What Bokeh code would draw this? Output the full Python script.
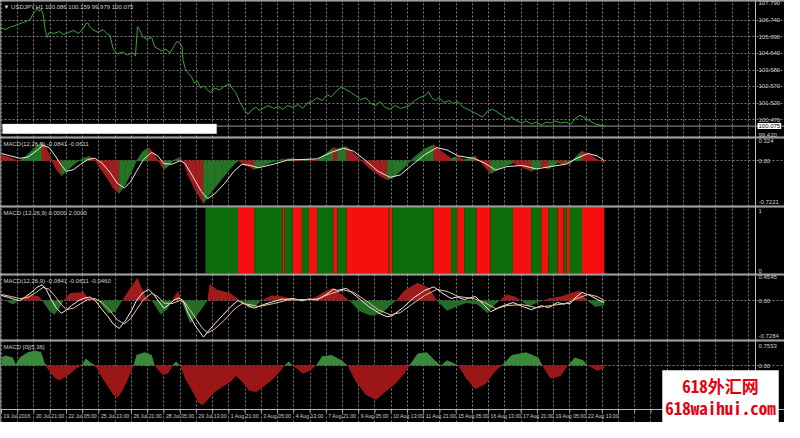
from bokeh.plotting import figure
from bokeh.layouts import column
from bokeh.models import Range1d, FixedTicker, Label, Span, BoxAnnotation
from bokeh.core.properties import value
from bokeh.embed import file_html
from bokeh.resources import INLINE

# ---------------- data (x = hourly bar index) ----------------
date_labels = ["19 Jul 2016", "20 Jul 21:00", "22 Jul 05:00", "25 Jul 13:00", "26 Jul 21:00",
               "28 Jul 05:00", "29 Jul 13:00", "1 Aug 21:00", "3 Aug 05:00", "4 Aug 13:00",
               "7 Aug 21:00", "9 Aug 05:00", "10 Aug 13:00", "11 Aug 21:00", "15 Aug 05:00",
               "16 Aug 13:00", "17 Aug 21:00", "19 Aug 05:00", "22 Aug 13:00"]

price_t = [0, 4, 9, 13, 18, 23, 28, 31, 34, 35,
           37, 39, 41, 43, 45, 47, 52, 57, 61, 66,
           71, 76, 81, 83, 85, 87, 90, 95, 100, 105,
           107, 110, 114, 119, 124, 129, 132, 134, 136, 139,
           143, 148, 151, 155, 158, 162, 166, 170, 173, 176,
           178, 179, 181, 184, 187, 190, 193, 196, 199, 203,
           206, 210, 215, 220, 225, 227, 231, 235, 239, 243,
           247, 251, 254, 258, 263, 268, 273, 277, 282, 287,
           292, 297, 301, 306, 311, 316, 321, 325, 330, 335,
           340, 345, 349, 354, 359, 364, 369, 373, 378, 383,
           388, 393, 397, 402, 407, 412, 417, 421, 424, 428,
           431, 436, 441, 445, 450, 455, 460, 465, 469, 474,
           479, 484, 489, 493, 498, 503, 508, 513, 517, 522,
           527, 532, 537, 541, 546, 551, 556, 561, 565, 570,
           575, 580, 585, 589, 594]
price_v = [106.26, 106.14, 106.32, 106.38, 106.51, 106.63, 106.75, 107.12, 107.36, 107.48,
           107.30, 107.42, 107.12, 106.14, 105.65, 105.96, 105.90, 106.02, 105.83, 105.96,
           106.08, 105.90, 106.26, 106.51, 106.57, 106.32, 106.14, 105.96, 106.14, 105.83,
           105.77, 104.92, 104.61, 104.74, 104.55, 104.67, 104.49, 106.32, 106.14, 105.71,
           105.53, 105.65, 105.04, 104.92, 104.80, 104.92, 104.67, 105.10, 105.41, 105.28,
           105.04, 104.19, 103.70, 103.39, 103.21, 102.78, 102.90, 102.47, 102.60, 102.35,
           102.17, 102.47, 102.35, 102.60, 102.72, 102.47, 102.17, 101.56, 101.13, 100.82,
           101.13, 101.25, 101.07, 101.19, 101.37, 101.19, 101.31, 101.13, 101.37, 101.25,
           101.43, 101.19, 101.50, 101.62, 101.86, 101.68, 102.05, 101.92, 102.29, 102.54,
           102.35, 102.17, 101.99, 101.74, 101.86, 101.50, 101.37, 101.62, 101.25, 101.13,
           101.37, 101.19, 101.25, 101.37, 101.68, 101.86, 101.99, 102.23, 101.86, 101.68,
           101.86, 101.56, 101.68, 101.50, 101.62, 101.25, 101.13, 100.94, 100.82, 100.64,
           101.01, 101.13, 100.94, 100.76, 100.52, 100.64, 100.40, 100.27, 100.40, 100.21,
           100.33, 100.15, 100.33, 100.27, 100.40, 100.27, 100.33, 100.21, 100.52, 100.76,
           100.58, 100.40, 100.21, 100.15, 100.08]
last_price = 100.075
price_ticks = [107.79, 106.74, 105.69, 104.64, 103.58, 102.57, 101.52, 100.47, 99.42]
price_labels = ["107.790", "106.740", "105.690", "104.640", "103.580", "102.570", "101.520", "100.470", "99.420"]

# MACD main line
main_t = [0, 7, 13, 18, 24, 30, 35, 40, 44, 49,
          54, 59, 63, 69, 76, 82, 87, 92, 98, 105,
          110, 116, 122, 128, 133, 139, 145, 150, 155, 160,
          165, 170, 175, 179, 184, 191, 199, 203, 210, 218,
          226, 233, 239, 249, 258, 268, 277, 279, 287, 296,
          303, 311, 320, 327, 331, 340, 350, 362, 373, 380,
          385, 395, 406, 417, 426, 434, 443, 449, 456, 467,
          475, 482, 492, 504, 514, 522, 532, 539, 548, 554,
          557, 560, 565, 572, 580, 587, 594]
main_v = [0.10, 0.06, 0.02, 0.00, 0.08, 0.17, 0.26, 0.31, 0.22, 0.02,
          -0.15, -0.25, -0.20, -0.10, 0.00, 0.05, 0.07, 0.01, -0.15, -0.32,
          -0.46, -0.55, -0.40, -0.20, 0.00, 0.15, 0.22, 0.12, -0.02, -0.15,
          -0.08, 0.01, 0.05, 0.00, -0.25, -0.50, -0.72, -0.62, -0.46, -0.29,
          -0.12, 0.00, -0.06, -0.15, -0.08, -0.02, 0.03, 0.02, 0.04, 0.00,
          0.03, 0.01, 0.12, 0.22, 0.20, 0.24, 0.08, -0.12, -0.26, -0.32,
          -0.30, -0.15, 0.05, 0.20, 0.27, 0.15, 0.04, 0.07, 0.02, 0.08,
          -0.08, -0.22, -0.12, -0.04, -0.12, -0.18, -0.10, -0.14, -0.04, -0.07,
          -0.05, -0.07, 0.05, 0.16, 0.10, 0.02, -0.04]

# MACD signal line
sig_t = [0, 9, 18, 26, 34, 41, 47, 53, 59, 64,
         71, 78, 85, 92, 99, 107, 114, 121, 127, 133,
         140, 148, 154, 160, 168, 176, 181, 189, 197, 203,
         210, 220, 229, 237, 245, 253, 268, 282, 297, 311,
         325, 337, 347, 359, 371, 383, 393, 404, 417, 429,
         439, 450, 465, 476, 487, 498, 513, 527, 541, 556,
         567, 578, 587, 594]
sig_v = [0.12, 0.08, 0.04, 0.06, 0.16, 0.26, 0.22, 0.08, -0.08, -0.18,
         -0.15, -0.06, 0.02, 0.04, -0.04, -0.20, -0.38, -0.46, -0.36, -0.18,
         0.02, 0.14, 0.08, -0.05, -0.06, 0.00, -0.05, -0.28, -0.52, -0.64,
         -0.56, -0.38, -0.18, -0.06, -0.08, -0.12, -0.06, 0.01, 0.02, 0.03,
         0.14, 0.21, 0.16, 0.00, -0.18, -0.28, -0.24, -0.08, 0.10, 0.22,
         0.18, 0.08, 0.04, -0.04, -0.16, -0.10, -0.08, -0.14, -0.10, -0.06,
         0.04, 0.12, 0.08, 0.00]

# OsMA histogram (panel 4)
osma_t = [0, 4, 11, 18, 28, 37, 40, 47, 52, 57,
          61, 68, 81, 85, 90, 95, 105, 112, 119, 127,
          134, 138, 143, 148, 157, 164, 168, 174, 177, 186,
          196, 203, 205, 212, 225, 232, 235, 244, 250, 256,
          266, 277, 287, 297, 304, 316, 327, 335, 343, 352,
          364, 375, 383, 389, 397, 410, 421, 429, 439, 448,
          458, 469, 479, 485, 491, 498, 506, 512, 519, 527,
          533, 541, 551, 561, 570, 577, 585, 594]
osma_v = [0.04, 0.0, -0.08, 0.0, 0.12, 0.08, 0.0, -0.2, -0.28, -0.15,
          0.0, 0.15, 0.17, 0.05, 0.02, 0.0, -0.25, -0.22, 0.0, 0.25,
          0.45, 0.25, 0.05, 0.0, -0.28, -0.15, 0.0, 0.2, 0.0, -0.45,
          -0.2, 0.0, 0.33, 0.22, 0.15, 0.05, 0.0, -0.15, -0.12, 0.0,
          0.1, 0.08, 0.03, -0.02, 0.0, 0.15, 0.25, 0.12, 0.0, -0.2,
          -0.3, -0.25, -0.1, 0.0, 0.2, 0.35, 0.25, 0.0, -0.2, -0.12,
          -0.05, -0.08, -0.25, -0.1, 0.0, 0.12, 0.08, 0.0, -0.12, -0.05,
          0.0, 0.05, 0.08, 0.15, 0.2, 0.0, -0.12, -0.1]

# Panel 3: rising (1) / falling (0) state segments
p3_edges = [201, 233, 249, 277, 279, 287, 296, 303, 311, 327,
            331, 340, 381, 382, 385, 426, 443, 449, 456, 468,
            482, 504, 522, 532, 539, 548, 554, 557, 560, 572, 594]
p3_state = [1, 0, 1, 0, 1, 0, 1, 0, 1, 0,
            1, 0, 1, 0, 1, 0, 1, 0, 1, 0,
            1, 0, 1, 0, 1, 0, 1, 0, 1, 0]

# Panel 5: MACD [0][5,36] histogram
p5_t = [0, 4, 11, 14, 18, 26, 33, 39, 43, 47,
        52, 57, 62, 68, 74, 79, 83, 88, 93, 98,
        105, 110, 115, 120, 126, 130, 133, 141, 148, 151,
        155, 159, 164, 168, 172, 176, 181, 187, 194, 198,
        203, 210, 218, 226, 231, 237, 244, 251, 258, 268,
        275, 279, 283, 287, 297, 304, 310, 316, 325, 335,
        341, 349, 359, 369, 378, 388, 397, 402, 410, 419,
        427, 433, 439, 445, 450, 458, 467, 477, 487, 493,
        503, 517, 529, 533, 541, 551, 558, 565, 573, 578,
        587, 594]
p5_v = [0.3, 0.38, 0.3, 0.05, 0.3, 0.5, 0.57, 0.5, 0.05, -0.2,
        -0.45, -0.57, -0.45, -0.3, -0.1, 0.0, 0.26, 0.1, -0.05, -0.4,
        -0.8, -1.1, -1.2, -0.9, -0.4, 0.0, 0.4, 0.5, 0.4, 0.0,
        -0.2, -0.35, -0.3, -0.05, 0.15, 0.0, -0.5, -0.9, -1.4, -1.5,
        -1.3, -1.0, -0.8, -0.6, -0.4, -0.6, -0.95, -1.0, -0.8, -0.5,
        -0.2, 0.0, 0.15, 0.0, -0.3, -0.2, 0.0, 0.35, 0.4, 0.2,
        0.0, -0.6, -1.1, -1.3, -1.0, -0.7, -0.3, 0.0, 0.45, 0.5,
        0.2, 0.0, 0.2, 0.1, 0.0, -0.5, -0.9, -0.7, -0.2, 0.0,
        0.4, 0.5, 0.3, 0.0, -0.5, -0.4, 0.0, 0.3, 0.2, 0.0,
        -0.2, -0.1]

titles = ["\u25BC USDJPY,H1  100.086 100.159 99.979 100.075",
          "MACD(12,26,9) -0.0841 -0.0611",
          "MACD (12,26,9) 0.0000 2.0000",
          "MACD(12,26,9) -0.0841 -0.0611 -0.0460",
          "MACD [0][5,36]"]
watermark = "618外汇网\n618waihui.com"

# ---------------- style / layout ----------------
W = 784            # whole canvas width
PW = 755           # width of the plotting area (price scale to its right)
AXIS_H = 13        # height of the date strip
X_START, X_END = -1, 743
X_FULL = X_START + (X_END - X_START) * W / PW
GRID_STEP = 16
BARS_PER_LABEL = 32
FONT = "Liberation Sans"
BG = "#000000"
TXT = "#cfcfcf"
GRIDC = "#7c7c7c"
SEP = "#b9b9b9"

grid_x = list(range(0, X_END, GRID_STEP))
XR = Range1d(X_START, X_FULL)


def panel(fh, ylo, yhi, ticks, labels, grid_y, title, extra_px=0):
    ext = (yhi - ylo) / fh * extra_px
    p = figure(frame_width=W, frame_height=fh + extra_px, x_range=XR,
               y_range=Range1d(ylo - ext, yhi),
               x_axis_location=None, y_axis_location=None,
               output_backend="svg", toolbar_location=None, min_border=0,
               background_fill_color=BG, border_fill_color=BG, outline_line_color=None)
    p.xgrid.ticker = FixedTicker(ticks=grid_x)
    p.ygrid.ticker = FixedTicker(ticks=grid_y)
    p.xgrid.bounds = (ylo, yhi)
    p.ygrid.bounds = (X_START, X_END)
    for g in (p.xgrid, p.ygrid):
        g.grid_line_color = GRIDC
        g.grid_line_dash = "2 2"
        g.grid_line_width = 1
    # separators and price-scale border
    p.add_layout(Span(location=yhi, dimension="width", line_color=SEP, line_width=2))
    p.add_layout(Span(location=ylo, dimension="width", line_color=SEP, line_width=1 if extra_px else 2))
    p.add_layout(Span(location=X_END, dimension="height", line_color=SEP, line_width=1))
    # price-scale labels
    for t, l in zip(ticks, labels):
        base = "middle"
        if t - ylo < (yhi - ylo) / fh * 3:
            base = "bottom"
        p.add_layout(Label(x=X_END, y=t, x_offset=3, text=l, text_font=FONT,
                           text_font_size="6px", text_color=TXT, text_baseline=base))
    p.add_layout(Label(x=X_START, y=yhi, x_offset=3, y_offset=-3, text=title,
                       text_font=FONT, text_font_size="6px", text_color=TXT,
                       text_baseline="top"))
    return p, ext


# Panel 1: price
p1, _ = panel(137, 99.36, 107.97, price_ticks, price_labels, price_ticks[1:-1], titles[0])
p1.add_layout(Span(location=last_price, dimension="width", line_color="#9a9a9a", line_width=1))
p1.line(price_t, price_v, line_color="#3aa53a", line_width=1)
blank_box = dict(left=1, right=212, bottom=99.60, top=100.21)
p1.add_layout(BoxAnnotation(fill_color="white", fill_alpha=1, line_color="#cccccc", **blank_box))
p1.add_layout(Label(x=X_END, y=last_price, x_offset=2, text=f"{last_price:.3f}",
                    text_font=FONT, text_font_size="6px", text_color="black",
                    text_baseline="middle", background_fill_color="white", padding=1))

# Panel 2: MACD main filled (colour by slope) + signal line
UP2, DN2 = "#277427", "#a21d1d"
xs, ys, cols = [], [], []
for i in range(len(main_t) - 1):
    xs.append([main_t[i], main_t[i], main_t[i + 1], main_t[i + 1]])
    ys.append([0, main_v[i], main_v[i + 1], 0])
    cols.append(UP2 if main_v[i + 1] >= main_v[i] else DN2)
p2, _ = panel(69, -0.772, 0.39, [0.324, 0.0, -0.7221], ["0.324", "0.00", "-0.7221"], [0.0], titles[1])
p2.patches(xs, ys, fill_color=cols, line_color=cols, line_width=0.5)
p2.line(sig_t, sig_v, line_color="#e8e8e8", line_width=1)

# Panel 3: state bars
p3, _ = panel(68, -0.015, 1.015, [0.954, 0.045], ["1", "0"], [], titles[2])
p3.quad(left=p3_edges[:-1], right=p3_edges[1:], bottom=0, top=1,
        fill_color=["#0b6e0b" if s else "#f50f0f" for s in p3_state], line_color=None)

# Panel 4: OsMA + main + signal
p4, _ = panel(66, -0.787, 0.513, [0.4545, 0.0, -0.7284], ["0.4545", "0.00", "-0.7284"], [0.0], titles[3])
p4.varea(x=osma_t, y1=0, y2=[max(v, 0) for v in osma_v], fill_color="#9e1c1c")
p4.varea(x=osma_t, y1=0, y2=[min(v, 0) for v in osma_v], fill_color="#256c25")
p4.line(main_t, main_v, line_color="#f2f2f2", line_width=1)
p4.line(sig_t, sig_v, line_color="#e9c39b", line_width=1)

# Panel 5: histogram + date strip
P5_LO, P5_HI = -1.66, 0.944
p5, ext5 = panel(69, P5_LO, P5_HI, [0.7553, 0.0], ["0.7553", "0.00"], [0.0], titles[4], extra_px=AXIS_H)
p5.varea(x=p5_t, y1=0, y2=[max(v, 0) for v in p5_v], fill_color="#3b8a3b")
p5.varea(x=p5_t, y1=0, y2=[min(v, 0) for v in p5_v], fill_color="#9b1717")
tick_len = ext5 * 3 / AXIS_H
p5.segment(x0=grid_x, y0=P5_LO, x1=grid_x, y1=P5_LO - tick_len, line_color=SEP, line_width=1)
label_x = [BARS_PER_LABEL * k for k in range(len(date_labels))]
p5.text(x=label_x, y=P5_LO, text=date_labels, x_offset=2, y_offset=3,
        text_font=value(FONT), text_font_size="5.2px", text_color=TXT,
        text_align="left", text_baseline="top")
p5.add_layout(Label(x=W - 64, y=0, x_units="screen", y_units="screen", text=watermark,
                    text_align="center", text_baseline="bottom",
                    text_font="'Noto Sans Mono CJK SC', 'DejaVu Sans Mono', monospace",
                    text_font_style="bold", text_font_size="17px", text_color="#e60012",
                    text_line_height=0.85, background_fill_color="white", padding=3))

layout = column(p1, p2, p3, p4, p5, spacing=0)
open("out.html", "w").write(file_html(layout, INLINE))
